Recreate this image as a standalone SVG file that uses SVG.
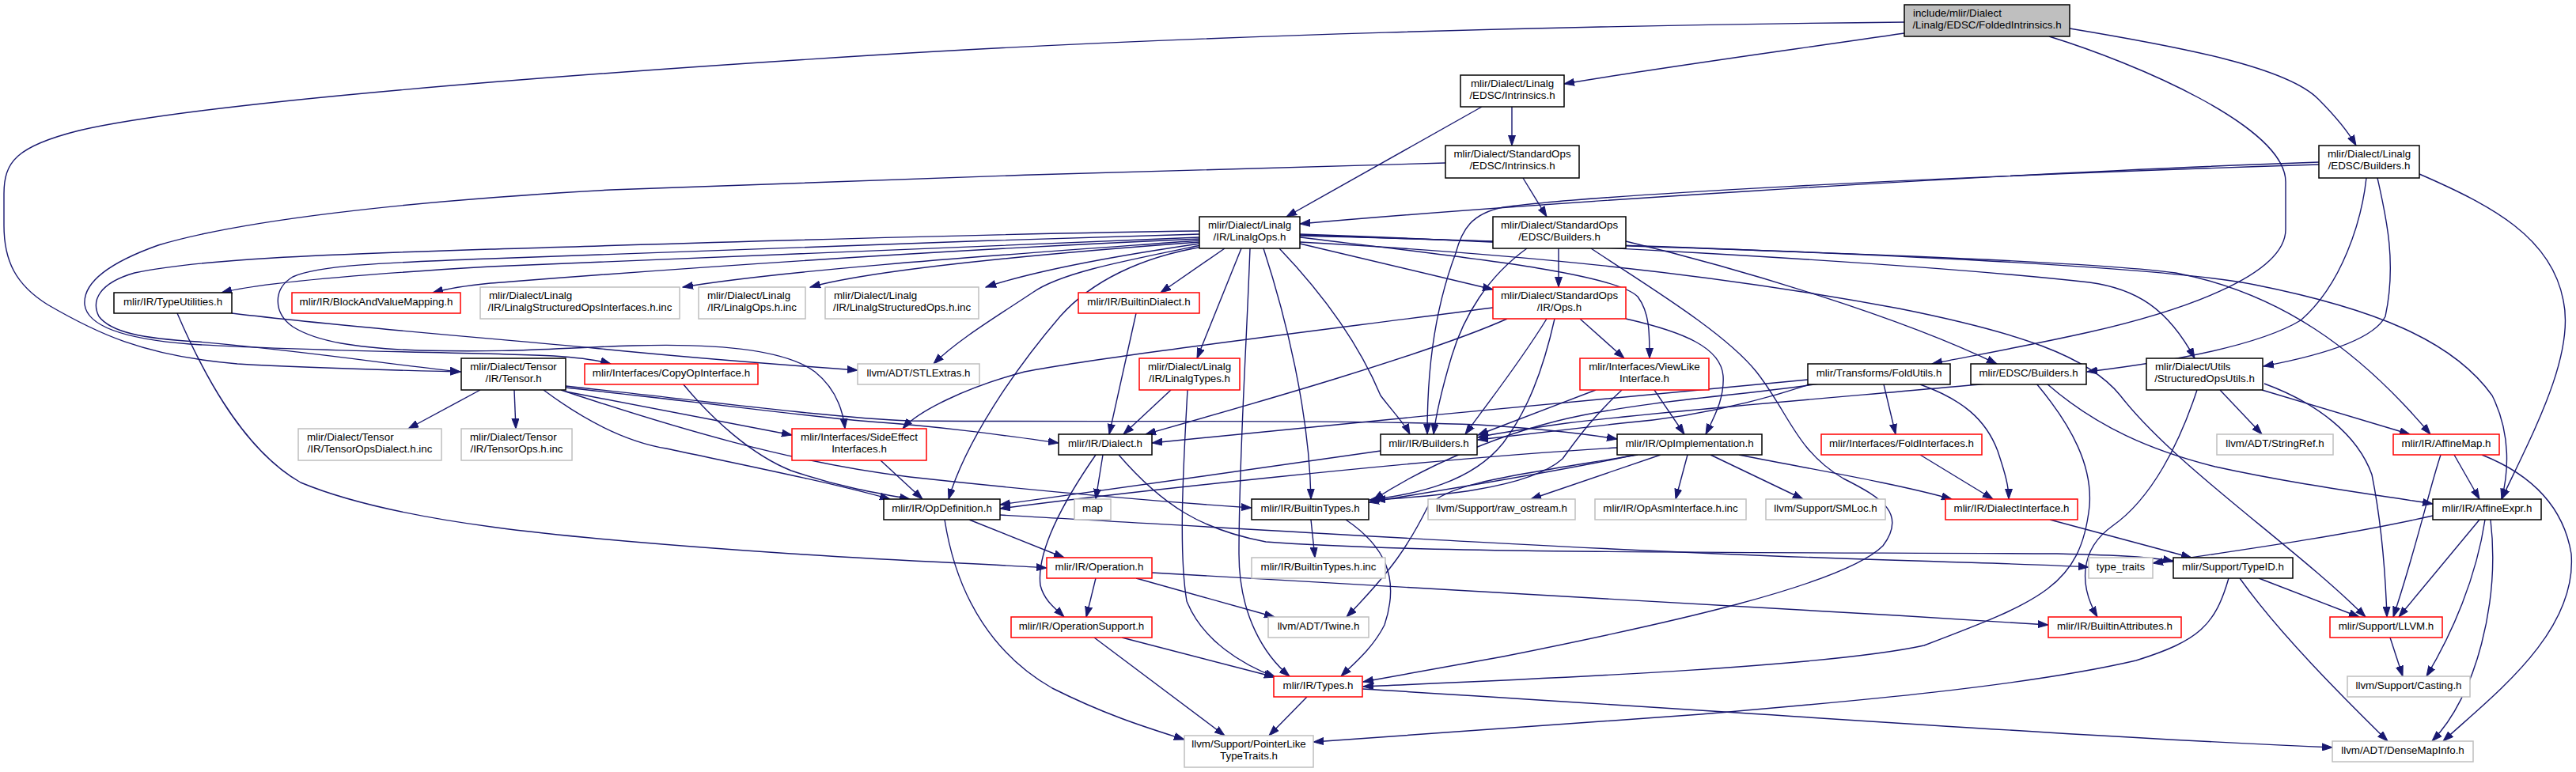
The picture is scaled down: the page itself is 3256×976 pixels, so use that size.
<svg xmlns="http://www.w3.org/2000/svg" width="3256" height="976" viewBox="0 0 3256 976">
<style>
text{font-family:"Liberation Sans",Arial,Helvetica,sans-serif;font-size:13.33px;fill:#000}
.m{text-anchor:middle}
.s{text-anchor:start}
rect{stroke-width:1.5}
.b{fill:#fff;stroke:#000}
.r{fill:#fff;stroke:#ff0000}
.g{fill:#fff;stroke:#bfbfbf}
.root{fill:#bfbfbf;stroke:#000}
#edges path{fill:none;stroke:#191970;stroke-width:1.4;marker-end:url(#ar)}
</style>
<defs>
<marker id="ar" markerUnits="userSpaceOnUse" markerWidth="14" markerHeight="10" refX="13" refY="5" orient="auto">
<path d="M0,0.5 L13,5 L0,9.5 z" fill="#191970" stroke="#191970" stroke-width="1"/>
</marker>
</defs>
<rect width="3256" height="976" fill="#fff"/>
<g id="edges">
<path d="M2407,42 C2250,65 2100,85 1977,106"/>
<path d="M2407,28 C2000,32 1500,45 1100,70 C700,95 250,130 100,165 C20,185 5,205 5,245 L5,285 C5,330 20,360 60,385 C120,420 180,450 300,460 C400,466 500,468 582,470"/>
<path d="M2590,46 C2700,80 2889,160 2889,230 L2889,290 C2889,350 2750,395 2640,420 C2550,440 2480,452 2442,460"/>
<path d="M2616,36 C2760,60 2890,85 2930,125 C2955,150 2970,170 2978,184"/>
<path d="M1911,135 L1911,184"/>
<path d="M1873,135 L1626,274"/>
<path d="M1925,225 L1955,274"/>
<path d="M1827,206 C1500,214 1100,227 772,240 C500,255 300,280 200,310 C130,335 105,360 107,385 C110,410 150,428 240,435 C400,445 600,445 700,450 C730,452 755,455 772,460"/>
<path d="M1516,292 C1200,296 800,310 620,315 C400,322 250,328 170,345 C125,358 115,380 125,400 C140,420 180,428 250,432 C400,445 500,462 582,470"/>
<path d="M1516,296 C1200,305 800,320 620,327 C480,332 400,336 370,350 C345,365 345,395 370,413 C400,432 450,440 530,443 C650,446 700,440 800,437 C900,434 990,440 1030,470 C1055,490 1065,515 1068,542"/>
<path d="M1516,300 C1100,315 700,332 620,337 C450,347 330,357 280,370"/>
<path d="M1516,302 C1100,320 750,348 620,358 C590,361 565,365 547,370"/>
<path d="M1516,304 C1300,320 1000,340 863,363"/>
<path d="M1516,306 C1300,322 1100,342 1024,363"/>
<path d="M1516,308 C1400,325 1300,345 1246,363"/>
<path d="M1518,310 C1420,330 1340,345 1305,370 C1260,400 1210,430 1180,460"/>
<path d="M1520,312 C1443,325 1380,355 1340,400 C1280,470 1220,560 1199,631"/>
<path d="M1548,314 L1467,370"/>
<path d="M1569,314 L1513,453"/>
<path d="M1580,314 C1575,450 1566,580 1566,700 C1566,780 1600,830 1630,855"/>
<path d="M1597,314 C1625,400 1655,520 1657,631"/>
<path d="M1617,314 C1680,380 1720,440 1745,500 C1760,520 1775,535 1782,549"/>
<path d="M1643,308 L1887,366"/>
<path d="M1643,300 C1850,325 2040,345 2070,375 C2085,395 2085,420 2085,453"/>
<path d="M1643,296 C1900,305 2400,330 2641,357 C2700,365 2740,390 2774,453"/>
<path d="M1643,297 C2000,310 2600,325 2750,345 C2880,370 2980,440 3072,549"/>
<path d="M1643,298 C2100,310 2700,330 2850,360 C3000,390 3100,430 3150,500 C3175,550 3170,600 3162,631"/>
<path d="M1643,306 C1900,320 2150,343 2400,390 C2550,420 2640,450 2680,500 C2750,590 2900,690 2990,780"/>
<path d="M1970,314 L1970,363"/>
<path d="M1930,314 C1880,350 1850,400 1835,450 C1820,500 1815,525 1812,549"/>
<path d="M2055,305 C2200,340 2400,400 2524,460"/>
<path d="M2011,314 C2080,360 2180,420 2220,470 C2260,520 2270,570 2330,605 C2380,630 2410,650 2380,690 C2330,740 2100,790 1900,830 C1820,845 1760,855 1723,862"/>
<path d="M2931,205 C2500,220 1900,260 1643,283"/>
<path d="M2931,208 C2400,225 2000,248 1900,262 C1860,270 1848,290 1840,320 C1810,400 1804,480 1804,549"/>
<path d="M2991,225 C2985,280 2960,360 2908,405 C2850,440 2720,460 2638,470"/>
<path d="M3005,225 C3015,270 3030,330 3015,400 C3000,430 2930,450 2861,463"/>
<path d="M3058,220 C3150,260 3225,300 3240,380 C3255,450 3200,550 3162,631"/>
<path d="M293,396 C450,415 650,430 750,440 C900,455 1000,462 1084,468"/>
<path d="M224,396 C260,480 310,570 380,610 C500,660 700,680 1000,700 C1150,710 1250,713 1323,718"/>
<path d="M1436,396 L1402,549"/>
<path d="M1480,493 L1420,549"/>
<path d="M1501,493 C1495,600 1490,700 1500,760 C1520,810 1570,840 1612,856"/>
<path d="M1905,403 C1800,450 1550,520 1448,549"/>
<path d="M1887,389 C1650,420 1400,450 1295,470 C1220,490 1160,520 1141,542"/>
<path d="M1955,403 C1920,460 1880,510 1852,549"/>
<path d="M1965,403 C1950,470 1930,520 1900,560 C1860,610 1790,625 1731,632"/>
<path d="M1997,403 L2053,453"/>
<path d="M2055,403 C2130,420 2175,440 2178,475 C2180,505 2165,530 2156,549"/>
<path d="M607,493 L516,542"/>
<path d="M650,493 L652,542"/>
<path d="M715,495 L1001,550"/>
<path d="M715,490 C900,510 1050,530 1100,533 C1200,540 1280,552 1338,560"/>
<path d="M715,488 C900,508 1050,528 1150,532 C1400,534 1700,530 1868,537 C1950,542 2000,548 2044,555"/>
<path d="M709,493 C850,540 1000,585 1150,603 C1350,625 1480,635 1582,642"/>
<path d="M687,493 C750,540 800,560 842,567 C950,590 1050,610 1125,631"/>
<path d="M863,485 C900,530 950,575 1000,595 C1060,615 1100,622 1150,631"/>
<path d="M1113,582 L1166,631"/>
<path d="M2285,480 C2100,497 1700,535 1456,560"/>
<path d="M2290,485 C2230,505 2150,527 2050,535 C1960,545 1900,552 1868,556"/>
<path d="M2513,485 C2350,500 2100,520 1980,535 C1930,542 1890,548 1868,553"/>
<path d="M2300,485 C2200,500 2100,505 2000,525 C1900,545 1800,590 1736,632"/>
<path d="M2574,485 C2620,540 2645,590 2641,640 C2630,740 2580,760 2432,816 C2300,845 1900,860 1723,868"/>
<path d="M2587,485 C2650,540 2720,570 2800,590 C2900,612 3000,625 3075,637"/>
<path d="M2017,493 L1868,550"/>
<path d="M2050,493 C2010,530 1990,560 1975,580 C1930,620 1800,628 1738,632"/>
<path d="M2091,493 L2129,549"/>
<path d="M2044,566 C1800,580 1400,625 1264,643"/>
<path d="M1745,570 C1600,590 1400,620 1264,638"/>
<path d="M2067,575 C1950,600 1820,620 1730,635"/>
<path d="M2099,575 L1935,631"/>
<path d="M2133,575 L2118,631"/>
<path d="M2162,575 L2279,631"/>
<path d="M2198,575 C2300,595 2400,612 2467,631"/>
<path d="M2070,575 C1920,600 1830,610 1805,640 C1780,690 1760,720 1702,780"/>
<path d="M2427,575 L2519,631"/>
<path d="M2381,486 L2396,549"/>
<path d="M2427,486 C2480,505 2510,530 2525,570 C2535,600 2539,615 2539,631"/>
<path d="M2806,493 L2859,549"/>
<path d="M2859,493 L3046,549"/>
<path d="M2862,485 C2930,510 2980,550 2998,600 C3010,660 3015,720 3017,780"/>
<path d="M2777,493 C2755,560 2720,630 2670,665 C2628,695 2628,740 2651,780"/>
<path d="M3102,575 L3134,631"/>
<path d="M3085,575 C3070,620 3055,690 3025,780"/>
<path d="M3137,575 C3200,600 3240,640 3250,700 C3258,800 3150,880 3088,937"/>
<path d="M3075,652 C2950,680 2800,700 2721,712"/>
<path d="M3134,657 L3032,780"/>
<path d="M3141,657 C3130,730 3100,800 3067,855"/>
<path d="M3148,657 C3160,760 3130,880 3074,937"/>
<path d="M3021,806 L3037,855"/>
<path d="M2855,731 L2982,780"/>
<path d="M2831,731 C2880,800 2960,880 3018,937"/>
<path d="M2817,731 C2800,790 2780,810 2700,835 C2550,870 2300,890 2150,903 C1950,918 1800,928 1660,938"/>
<path d="M2591,657 L2770,705"/>
<path d="M1394,575 L1385,631"/>
<path d="M1385,575 C1340,640 1310,700 1315,740 C1320,760 1335,770 1345,780"/>
<path d="M1414,575 C1470,640 1520,670 1600,685 C1800,700 2200,698 2600,700 C2680,702 2720,704 2747,710"/>
<path d="M1264,651 C1600,670 2000,695 2300,705 C2500,712 2600,714 2640,717"/>
<path d="M1225,657 L1345,705"/>
<path d="M1194,657 C1210,760 1260,830 1330,870 C1400,905 1450,920 1497,935"/>
<path d="M1385,731 L1373,780"/>
<path d="M1436,731 L1611,780"/>
<path d="M1456,724 C1800,745 2200,765 2589,790"/>
<path d="M1418,806 L1611,856"/>
<path d="M1383,806 L1548,930"/>
<path d="M1657,657 L1662,705"/>
<path d="M1701,657 C1750,690 1770,730 1750,790 C1735,820 1710,840 1695,855"/>
<path d="M1652,881 L1604,930"/>
<path d="M1722,871 C2200,900 2600,930 2948,945"/>
</g>
<g id="n0"><rect class="root" x="2407" y="6" width="209" height="40"/><text class="s" x="2418" y="21">include/mlir/Dialect</text><text class="m" x="2511.5" y="36">/Linalg/EDSC/FoldedIntrinsics.h</text></g>
<g id="n1"><rect class="b" x="1846" y="95" width="131" height="40"/><text class="m" x="1911.5" y="110">mlir/Dialect/Linalg</text><text class="m" x="1911.5" y="125">/EDSC/Intrinsics.h</text></g>
<g id="n2"><rect class="b" x="1827" y="184" width="169" height="41"/><text class="m" x="1911.5" y="199">mlir/Dialect/StandardOps</text><text class="m" x="1911.5" y="214">/EDSC/Intrinsics.h</text></g>
<g id="n3"><rect class="b" x="2931" y="184" width="127" height="41"/><text class="m" x="2994.5" y="199">mlir/Dialect/Linalg</text><text class="m" x="2994.5" y="214">/EDSC/Builders.h</text></g>
<g id="n4"><rect class="b" x="1516" y="274" width="127" height="40"/><text class="m" x="1579.5" y="289">mlir/Dialect/Linalg</text><text class="m" x="1579.5" y="304">/IR/LinalgOps.h</text></g>
<g id="n5"><rect class="b" x="1887" y="274" width="168" height="40"/><text class="m" x="1971" y="289">mlir/Dialect/StandardOps</text><text class="m" x="1971" y="304">/EDSC/Builders.h</text></g>
<g id="n6"><rect class="b" x="144" y="370" width="149" height="26"/><text class="m" x="218.5" y="386">mlir/IR/TypeUtilities.h</text></g>
<g id="n7"><rect class="r" x="369" y="370" width="213" height="26"/><text class="m" x="475.5" y="386">mlir/IR/BlockAndValueMapping.h</text></g>
<g id="n8"><rect class="g" x="607" y="363" width="252" height="40"/><text class="s" x="618" y="378">mlir/Dialect/Linalg</text><text class="m" x="733" y="393">/IR/LinalgStructuredOpsInterfaces.h.inc</text></g>
<g id="n9"><rect class="g" x="883" y="363" width="135" height="40"/><text class="s" x="894" y="378">mlir/Dialect/Linalg</text><text class="m" x="950.5" y="393">/IR/LinalgOps.h.inc</text></g>
<g id="n10"><rect class="g" x="1043" y="363" width="194" height="40"/><text class="s" x="1054" y="378">mlir/Dialect/Linalg</text><text class="m" x="1140" y="393">/IR/LinalgStructuredOps.h.inc</text></g>
<g id="n11"><rect class="r" x="1363" y="370" width="153" height="26"/><text class="m" x="1439.5" y="386">mlir/IR/BuiltinDialect.h</text></g>
<g id="n12"><rect class="r" x="1887" y="363" width="168" height="40"/><text class="m" x="1971" y="378">mlir/Dialect/StandardOps</text><text class="m" x="1971" y="393">/IR/Ops.h</text></g>
<g id="n13"><rect class="b" x="583" y="453" width="132" height="40"/><text class="m" x="649" y="468">mlir/Dialect/Tensor</text><text class="m" x="649" y="483">/IR/Tensor.h</text></g>
<g id="n14"><rect class="r" x="739" y="460" width="219" height="26"/><text class="m" x="848.5" y="476">mlir/Interfaces/CopyOpInterface.h</text></g>
<g id="n15"><rect class="g" x="1084" y="460" width="154" height="26"/><text class="m" x="1161" y="476">llvm/ADT/STLExtras.h</text></g>
<g id="n16"><rect class="r" x="1440" y="453" width="127" height="40"/><text class="m" x="1503.5" y="468">mlir/Dialect/Linalg</text><text class="m" x="1503.5" y="483">/IR/LinalgTypes.h</text></g>
<g id="n17"><rect class="r" x="1997" y="453" width="163" height="40"/><text class="m" x="2078.5" y="468">mlir/Interfaces/ViewLike</text><text class="m" x="2078.5" y="483">Interface.h</text></g>
<g id="n18"><rect class="b" x="2285" y="460" width="180" height="26"/><text class="m" x="2375" y="476">mlir/Transforms/FoldUtils.h</text></g>
<g id="n19"><rect class="b" x="2491" y="460" width="146" height="26"/><text class="m" x="2564" y="476">mlir/EDSC/Builders.h</text></g>
<g id="n20"><rect class="b" x="2713" y="453" width="147" height="40"/><text class="s" x="2724" y="468">mlir/Dialect/Utils</text><text class="m" x="2786.5" y="483">/StructuredOpsUtils.h</text></g>
<g id="n21"><rect class="r" x="1001" y="542" width="170" height="40"/><text class="m" x="1086" y="557">mlir/Interfaces/SideEffect</text><text class="m" x="1086" y="572">Interfaces.h</text></g>
<g id="n22"><rect class="g" x="377" y="542" width="181" height="40"/><text class="s" x="388" y="557">mlir/Dialect/Tensor</text><text class="m" x="467.5" y="572">/IR/TensorOpsDialect.h.inc</text></g>
<g id="n23"><rect class="g" x="583" y="542" width="140" height="40"/><text class="s" x="594" y="557">mlir/Dialect/Tensor</text><text class="m" x="653" y="572">/IR/TensorOps.h.inc</text></g>
<g id="n24"><rect class="b" x="1338" y="549" width="118" height="26"/><text class="m" x="1397" y="565">mlir/IR/Dialect.h</text></g>
<g id="n25"><rect class="b" x="1745" y="549" width="122" height="26"/><text class="m" x="1806" y="565">mlir/IR/Builders.h</text></g>
<g id="n26"><rect class="b" x="2044" y="549" width="183" height="26"/><text class="m" x="2135.5" y="565">mlir/IR/OpImplementation.h</text></g>
<g id="n27"><rect class="r" x="2302" y="549" width="203" height="26"/><text class="m" x="2403.5" y="565">mlir/Interfaces/FoldInterfaces.h</text></g>
<g id="n28"><rect class="g" x="2802" y="549" width="147" height="26"/><text class="m" x="2875.5" y="565">llvm/ADT/StringRef.h</text></g>
<g id="n29"><rect class="r" x="3025" y="549" width="134" height="26"/><text class="m" x="3092" y="565">mlir/IR/AffineMap.h</text></g>
<g id="n30"><rect class="b" x="1117" y="631" width="147" height="26"/><text class="m" x="1190.5" y="647">mlir/IR/OpDefinition.h</text></g>
<g id="n31"><rect class="g" x="1358" y="631" width="46" height="26"/><text class="m" x="1381" y="647">map</text></g>
<g id="n32"><rect class="b" x="1582" y="631" width="148" height="26"/><text class="m" x="1656" y="647">mlir/IR/BuiltinTypes.h</text></g>
<g id="n33"><rect class="g" x="1805" y="631" width="186" height="26"/><text class="m" x="1898" y="647">llvm/Support/raw_ostream.h</text></g>
<g id="n34"><rect class="g" x="2016" y="631" width="191" height="26"/><text class="m" x="2111.5" y="647">mlir/IR/OpAsmInterface.h.inc</text></g>
<g id="n35"><rect class="g" x="2232" y="631" width="151" height="26"/><text class="m" x="2307.5" y="647">llvm/Support/SMLoc.h</text></g>
<g id="n36"><rect class="r" x="2459" y="631" width="167" height="26"/><text class="m" x="2542.5" y="647">mlir/IR/DialectInterface.h</text></g>
<g id="n37"><rect class="b" x="3075" y="631" width="137" height="26"/><text class="m" x="3143.5" y="647">mlir/IR/AffineExpr.h</text></g>
<g id="n38"><rect class="r" x="1323" y="705" width="133" height="26"/><text class="m" x="1389.5" y="721">mlir/IR/Operation.h</text></g>
<g id="n39"><rect class="g" x="1582" y="705" width="169" height="26"/><text class="m" x="1666.5" y="721">mlir/IR/BuiltinTypes.h.inc</text></g>
<g id="n40"><rect class="g" x="2640" y="705" width="81" height="26"/><text class="m" x="2680.5" y="721">type_traits</text></g>
<g id="n41"><rect class="b" x="2747" y="705" width="151" height="26"/><text class="m" x="2822.5" y="721">mlir/Support/TypeID.h</text></g>
<g id="n42"><rect class="r" x="1278" y="780" width="178" height="26"/><text class="m" x="1367" y="796">mlir/IR/OperationSupport.h</text></g>
<g id="n43"><rect class="g" x="1603" y="780" width="127" height="26"/><text class="m" x="1666.5" y="796">llvm/ADT/Twine.h</text></g>
<g id="n44"><rect class="r" x="2589" y="780" width="168" height="26"/><text class="m" x="2673" y="796">mlir/IR/BuiltinAttributes.h</text></g>
<g id="n45"><rect class="r" x="2945" y="780" width="142" height="26"/><text class="m" x="3016" y="796">mlir/Support/LLVM.h</text></g>
<g id="n46"><rect class="r" x="1610" y="855" width="112" height="26"/><text class="m" x="1666" y="871">mlir/IR/Types.h</text></g>
<g id="n47"><rect class="g" x="2967" y="855" width="155" height="26"/><text class="m" x="3044.5" y="871">llvm/Support/Casting.h</text></g>
<g id="n48"><rect class="g" x="1497" y="930" width="163" height="40"/><text class="m" x="1578.5" y="945">llvm/Support/PointerLike</text><text class="m" x="1578.5" y="960">TypeTraits.h</text></g>
<g id="n49"><rect class="g" x="2948" y="937" width="178" height="26"/><text class="m" x="3037" y="953">llvm/ADT/DenseMapInfo.h</text></g>
</svg>
